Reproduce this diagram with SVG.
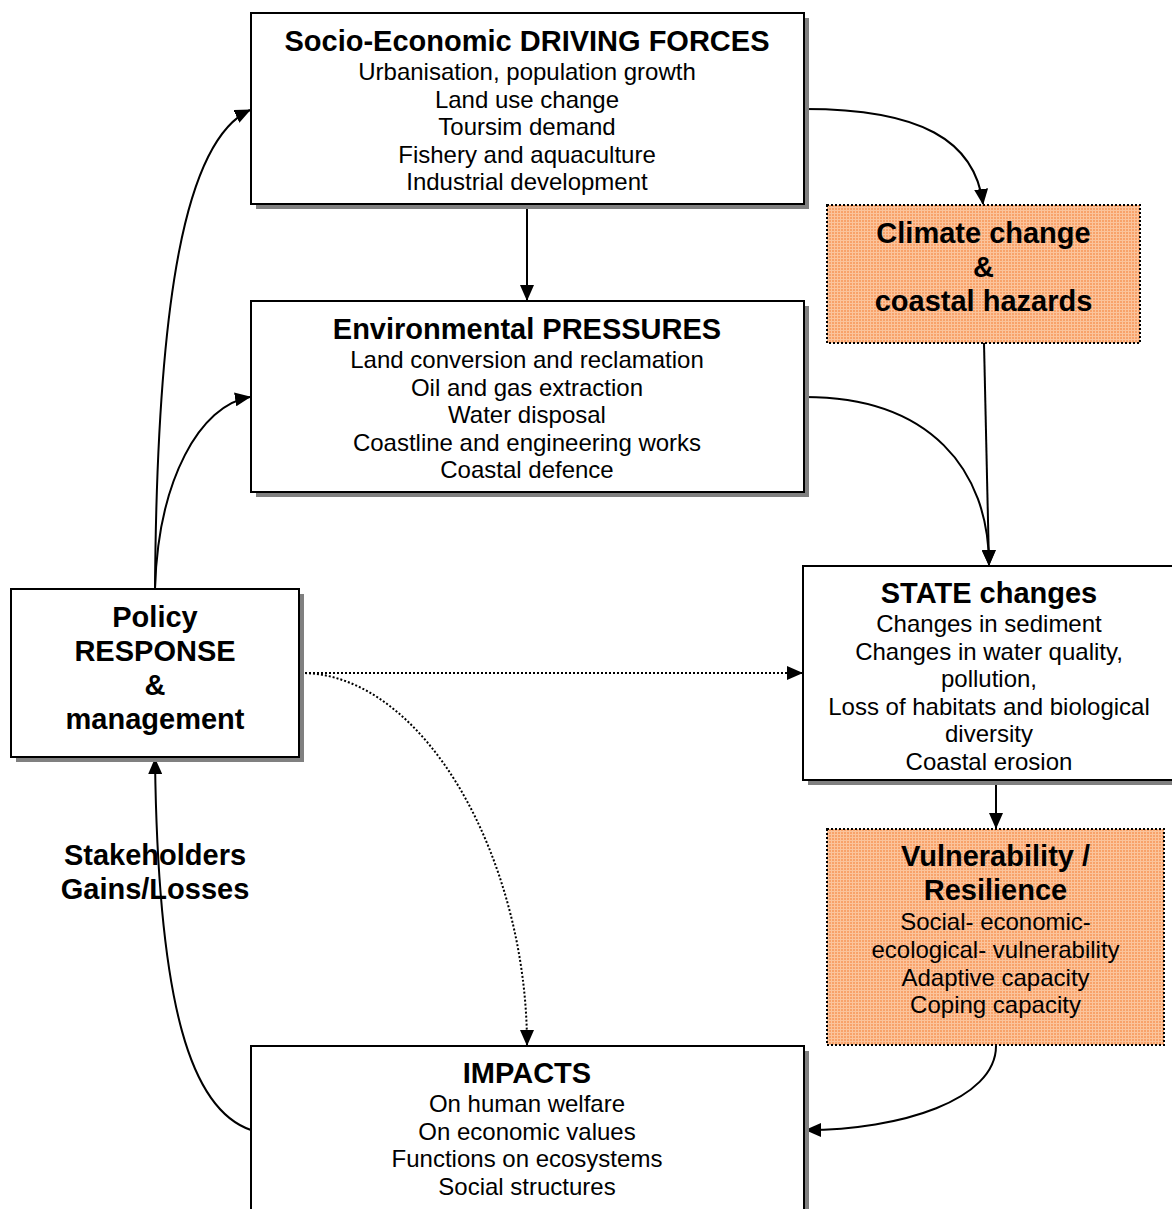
<svg xmlns="http://www.w3.org/2000/svg" width="1172" height="1209" viewBox="0 0 1172 1209">
<defs>
<pattern id="grid" width="3" height="3" patternUnits="userSpaceOnUse">
<rect width="3" height="3" fill="#f8a26a"/>
<rect x="0" y="0" width="3" height="1" fill="#fbc49c"/>
<rect x="0" y="0" width="1" height="3" fill="#fbc49c"/>
</pattern>
<marker id="arr" markerUnits="userSpaceOnUse" markerWidth="16" markerHeight="14" refX="15" refY="7" orient="auto">
<path d="M0,0 L16,7 L0,14 z" fill="#000"/>
</marker>
<style>
.box{fill:#fff;stroke:#000;stroke-width:2}
.shadow{fill:#808080}
.hz{fill:url(#grid);stroke:#000;stroke-width:2;stroke-dasharray:2 2}
.t{font-family:"Liberation Sans",Arial,sans-serif;font-weight:bold;font-size:29px;text-anchor:middle;fill:#000}
.b{font-family:"Liberation Sans",Arial,sans-serif;font-size:24px;text-anchor:middle;fill:#000}
.c{fill:none;stroke:#000;stroke-width:2;marker-end:url(#arr)}
.d{fill:none;stroke:#000;stroke-width:2;stroke-dasharray:2 2;marker-end:url(#arr)}
</style>
</defs>
<rect width="1172" height="1209" fill="#fff"/>

<g id="connectors">
<path class="c" d="M527,205 L527,300"/>
<path class="c" d="M805,109 C920,109 975,140 983,204"/>
<path class="c" d="M984,343 L989,565"/>
<path class="c" d="M805,397 C930,397 989,470 989,565"/>
<path class="c" d="M996,781 L996,828"/>
<path class="c" d="M996,1046 C996,1100 900,1130 806,1130"/>
<path class="c" d="M251,1130 C192,1110 158,1010 155,759"/>
<path class="c" d="M155,589 C157,300 185,140 250,110"/>
<path class="c" d="M155,589 C158,480 200,405 250,397"/>
<path class="d" d="M301,673 L802,673"/>
<path class="d" d="M301,673 C425,673 527,860 527,1045"/>
</g>

<g id="driving">
<rect class="shadow" x="256" y="18" width="553" height="191"/>
<rect class="box" x="251" y="13" width="553" height="191"/>
<text class="t" x="527" y="51">Socio-Economic DRIVING FORCES</text>
<text class="b" x="527" y="80">Urbanisation, population growth</text>
<text class="b" x="527" y="108">Land use change</text>
<text class="b" x="527" y="135">Toursim demand</text>
<text class="b" x="527" y="163">Fishery and aquaculture</text>
<text class="b" x="527" y="190">Industrial development</text>
</g>

<g id="pressures">
<rect class="shadow" x="256" y="306" width="553" height="191"/>
<rect class="box" x="251" y="301" width="553" height="191"/>
<text class="t" x="527" y="339">Environmental PRESSURES</text>
<text class="b" x="527" y="368">Land conversion and reclamation</text>
<text class="b" x="527" y="396">Oil and gas extraction</text>
<text class="b" x="527" y="423">Water disposal</text>
<text class="b" x="527" y="451">Coastline and engineering works</text>
<text class="b" x="527" y="478">Coastal defence</text>
</g>

<g id="climate">
<rect class="hz" x="827" y="205" width="313" height="138"/>
<text class="t" x="983.5" y="243">Climate change</text>
<text class="t" x="983.5" y="277">&amp;</text>
<text class="t" x="983.5" y="311">coastal hazards</text>
</g>

<g id="state">
<rect class="shadow" x="808" y="571" width="380" height="214"/>
<rect class="box" x="803" y="566" width="380" height="214"/>
<text class="t" x="989" y="603">STATE changes</text>
<text class="b" x="989" y="632">Changes in sediment</text>
<text class="b" x="989" y="660">Changes in water quality,</text>
<text class="b" x="989" y="687">pollution,</text>
<text class="b" x="989" y="715">Loss of habitats and biological</text>
<text class="b" x="989" y="742">diversity</text>
<text class="b" x="989" y="770">Coastal erosion</text>
</g>

<g id="vulnerability">
<rect class="hz" x="827" y="829" width="337" height="216"/>
<text class="t" x="995.5" y="866">Vulnerability /</text>
<text class="t" x="995.5" y="900">Resilience</text>
<text class="b" x="995.5" y="930">Social- economic-</text>
<text class="b" x="995.5" y="958">ecological- vulnerability</text>
<text class="b" x="995.5" y="986">Adaptive capacity</text>
<text class="b" x="995.5" y="1013">Coping capacity</text>
</g>

<g id="policy">
<rect class="shadow" x="16" y="594" width="288" height="168"/>
<rect class="box" x="11" y="589" width="288" height="168"/>
<text class="t" x="155" y="627">Policy</text>
<text class="t" x="155" y="661">RESPONSE</text>
<text class="t" x="155" y="695">&amp;</text>
<text class="t" x="155" y="729">management</text>
</g>

<g id="stakeholders">
<text class="t" x="155" y="865">Stakeholders</text>
<text class="t" x="155" y="899">Gains/Losses</text>
</g>

<g id="impacts">
<rect class="shadow" x="256" y="1051" width="553" height="180"/>
<rect class="box" x="251" y="1046" width="553" height="180"/>
<text class="t" x="527" y="1083">IMPACTS</text>
<text class="b" x="527" y="1112">On human welfare</text>
<text class="b" x="527" y="1140">On economic values</text>
<text class="b" x="527" y="1167">Functions on ecosystems</text>
<text class="b" x="527" y="1195">Social structures</text>
</g>
</svg>
